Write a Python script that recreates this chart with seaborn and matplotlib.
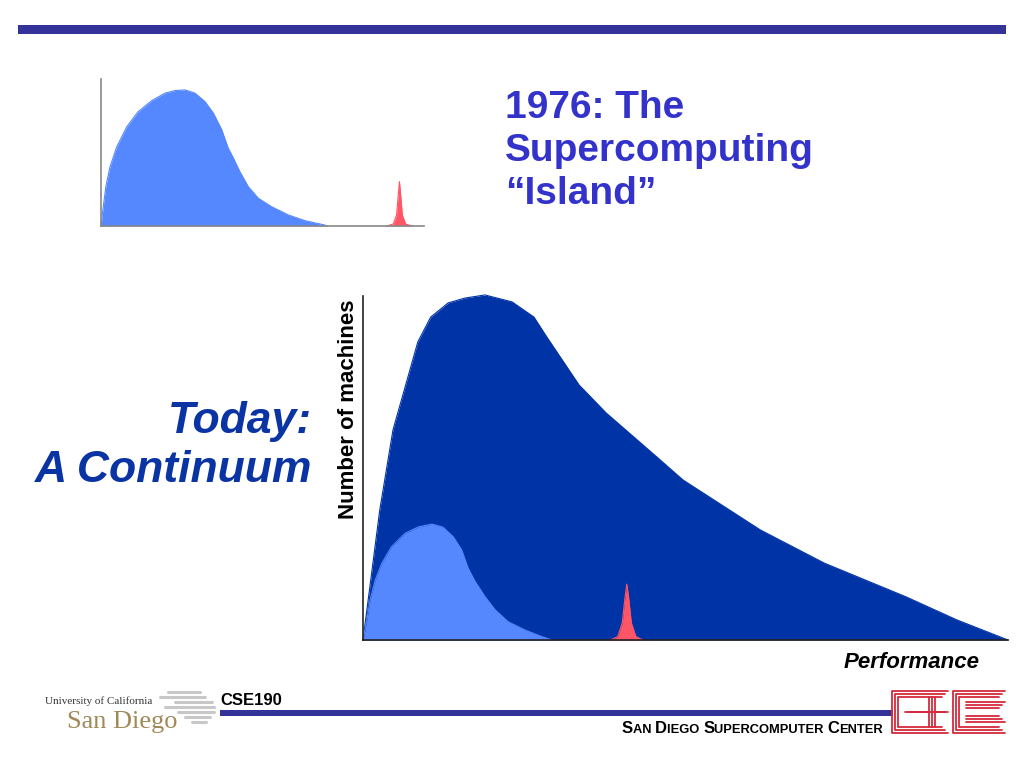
import matplotlib
matplotlib.use("Agg")
import matplotlib.pyplot as plt
import seaborn as sns
from matplotlib.lines import Line2D
from matplotlib.patches import Rectangle

# --- data (performance 0-100, machine count 0-100) ---
# 1976 inset
perf_1976 = [0, 0.7, 1.5, 2.8, 4.9, 8.0, 11.5, 15.7, 19.8, 22.9, 26.0, 29.1, 32.2, 34.8, 37.4,
             39.4, 40.5, 43.0, 45.6, 48.7, 52.8, 58.0, 63.2, 69.3, 70.0]
count_1976 = [0, 14.2, 28.9, 43.6, 58.3, 73.0, 84.0, 92.1, 97.6, 99.5, 100, 97.6, 91.4, 82.9, 70.6,
              57.1, 52.2, 39.9, 28.9, 20.4, 14.2, 8.1, 3.9, 0.7, 0]
super_perf_1976 = [88.5, 90.5, 91.5, 92, 92.4, 92.8, 93.3, 94.3, 96.3]
super_count_1976 = [0, 1.5, 8, 22, 32.6, 22, 8, 1.5, 0]

# today
perf_today = [0, 2.6, 4.65, 8.5, 10.5, 13.2, 15.8, 18.9, 23.1, 26.5, 28.5, 33.5, 37.7, 45.7, 49.6,
              61.6, 71.5, 84.2, 92.1, 100]
count_today = [0, 37.7, 60.9, 86.4, 93.6, 97.7, 99.1, 100, 98, 93.6, 87.8, 73.9, 65.8, 52.8, 46.4,
               31.9, 22.3, 12.5, 5.8, 0]
perf_old = [0, 0.6, 1.1, 1.9, 2.9, 4.4, 6.5, 8.6, 10.7, 12.4, 14.0, 15.3, 16.3, 17.4, 18.9, 20.5,
            22.5, 25.1, 27.7, 29.3]
count_old = [0, 5.8, 11.6, 17.4, 22.2, 27.0, 30.9, 32.8, 33.6, 32.7, 29.9, 26.1, 20.8, 16.9, 12.6,
             8.7, 5.3, 2.9, 1.0, 0]
super_perf = [38.4, 39.5, 40.2, 40.6, 40.9, 41.2, 41.6, 42.3, 43.4]
super_count = [0, 1, 5, 12, 16.2, 12, 5, 1, 0]

DARK = "#0033A6"
LIGHT = "#5588FF"
RED = "#FF5566"
BAR = "#333399"

sns.set_theme(style="white")
plt.rcParams['font.family'] = ['Liberation Sans', 'DejaVu Sans']

W, H = 1024, 768
fig = plt.figure(figsize=(10.24, 7.68), dpi=100)


def fx(x):
    return x / W


def fy(y):
    return 1 - y / H


def area(ax, x, y, color):
    sns.lineplot(x=x, y=y, ax=ax, color=color, lw=0.8, sort=False)
    ax.fill_between(x, y, 0, color=color, lw=0)


def clean(ax, spine_color):
    ax.set_xticks([])
    ax.set_yticks([])
    ax.set_xlabel("")
    ax.set_ylabel("")
    for s in ["top", "right"]:
        ax.spines[s].set_visible(False)
    for s in ["left", "bottom"]:
        ax.spines[s].set_color(spine_color)
        ax.spines[s].set_linewidth(1.2)
    ax.patch.set_alpha(0)


# top rule
fig.patches.append(Rectangle((fx(18), fy(34)), (1006 - 18) / W, 9 / H,
                             transform=fig.transFigure, color=BAR, lw=0))

# 1976 inset chart
ax_small = fig.add_axes([fx(101), fy(226), (424 - 101) / W, (226 - 79) / H])
area(ax_small, perf_1976, count_1976, LIGHT)
area(ax_small, super_perf_1976, super_count_1976, RED)
ax_small.set_xlim(0, 100)
ax_small.set_ylim(0, 108)
clean(ax_small, "#888888")

# today chart
ax = fig.add_axes([fx(363), fy(640), (1008 - 363) / W, (640 - 296) / H])
area(ax, perf_today, count_today, DARK)
area(ax, perf_old, count_old, LIGHT)
area(ax, super_perf, super_count, RED)
ax.set_xlim(0, 100)
ax.set_ylim(0, 99.7)
clean(ax, "#222222")
for line in ax.lines + ax_small.lines:
    line.set_clip_on(False)

fig.text(fx(348), fy(409), "Number of machines", rotation=90, ha="center", va="center",
         fontsize=16, fontweight="bold", color="black")
fig.text(fx(980), fy(668), "Performance", ha="right", va="baseline",
         fontsize=16, fontweight="bold", fontstyle="italic", color="black")

# titles
title_lines = ["1976: The", "Supercomputing", "\u201cIsland\u201d"]
for i, t in enumerate(title_lines):
    fig.text(fx(505), fy(118 + 43 * i), t, ha="left", va="baseline",
             fontsize=28, fontweight="bold", color="#3333CC")

for i, t in enumerate(["Today:", "A Continuum"]):
    fig.text(fx(312), fy(433 + 49 * i), t, ha="right", va="baseline",
             fontsize=32, fontweight="bold", fontstyle="italic", color="#0A33A3")

# footer
fig.text(fx(220), fy(705), "CSE190", ha="left", va="baseline",
         fontsize=12, fontweight="bold", color="black")
fig.patches.append(Rectangle((fx(220), fy(716)), (893 - 220) / W, 6 / H,
                             transform=fig.transFigure, color=BAR, lw=0))

renderer = fig.canvas.get_renderer()
segments = [("S", 12), ("AN ", 9.3), ("D", 12), ("IEGO ", 9.3), ("S", 12),
            ("UPERCOMPUTER ", 9.3), ("C", 12), ("ENTER", 9.3)]
xpos = 622
for txt, size in segments:
    t = fig.text(fx(xpos), fy(733), txt, ha="left", va="baseline",
                 fontsize=size, fontweight="bold", color="black")
    xpos += t.get_window_extent(renderer).width

# UCSD logo
for i, (x0, x1) in enumerate([(168, 200), (160, 205), (175, 212), (165, 214), (178, 214), (185, 210), (192, 206)]):
    yy = 692 + 5 * i
    fig.lines.append(Line2D([fx(x0), fx(x1)], [fy(yy), fy(yy)], transform=fig.transFigure,
                            color="#C8C8C8", lw=2.2))
fig.text(fx(45), fy(704), "University of California", ha="left", va="baseline",
         fontsize=8, family="Liberation Serif", color="#333333")
fig.text(fx(67), fy(728), "San Diego", ha="left", va="baseline",
         fontsize=19, family="Liberation Serif", color="#A08A58")

# SDSC logo
LOGO = "#D42A3C"


def seg(pts):
    xs = [fx(p[0]) for p in pts]
    ys = [fy(p[1]) for p in pts]
    fig.lines.append(Line2D(xs, ys, transform=fig.transFigure, color=LOGO, lw=1.3))


for off in (0, 3, 6):
    seg([(948 - off, 691 + off), (892 + off, 691 + off), (892 + off, 733 - off), (948 - off, 733 - off)])
    seg([(905 + off, 712), (948 - off, 712)])
for off in (0, 3, 6):
    seg([(1005 - off, 691 + off), (953 + off, 691 + off), (953 + off, 733 - off), (1005 - off, 733 - off)])
    seg([(1005 - off, 702 + off), (966, 702 + off)])
    seg([(966, 722 - off), (1005 - off, 722 - off)])
for off in (0, 3, 6):
    seg([(935 - off, 697), (935 - off, 727)])

fig.savefig("out.png", dpi=100)
